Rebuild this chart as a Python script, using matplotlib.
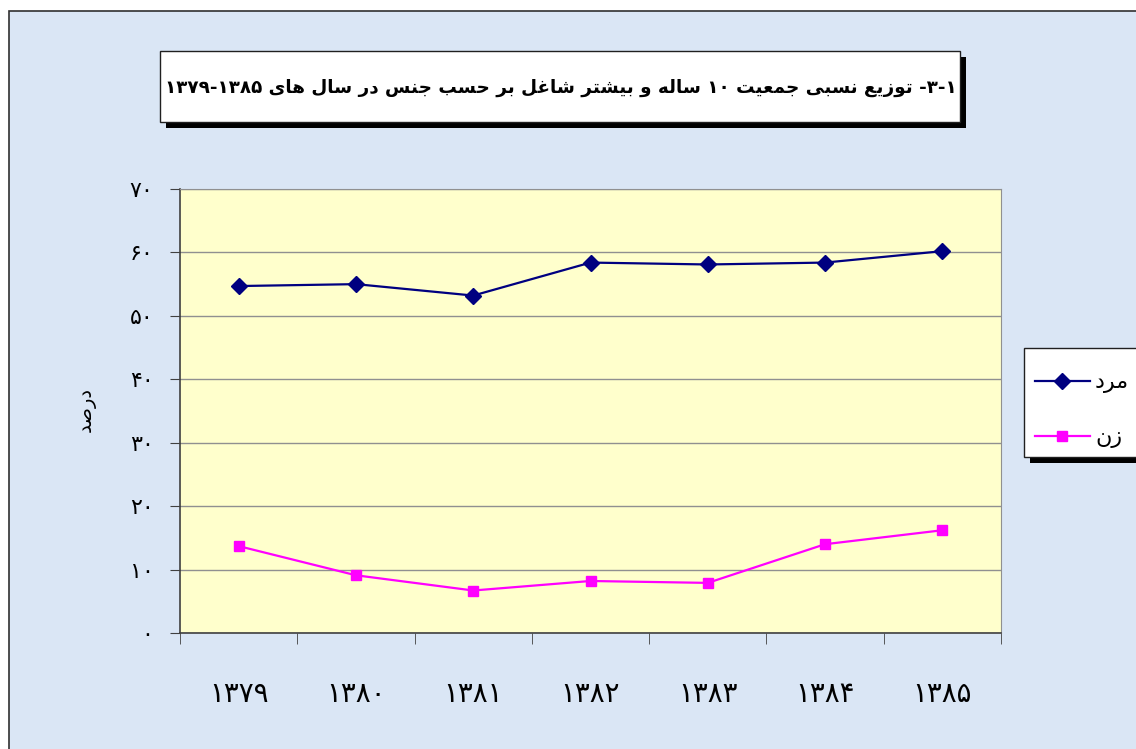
import re
import matplotlib
matplotlib.use("Agg")
import matplotlib.pyplot as plt
from matplotlib.patches import Rectangle
from matplotlib.lines import Line2D

# داده ها
years = ['۱۳۷۹', '۱۳۸۰', '۱۳۸۱', '۱۳۸۲', '۱۳۸۳', '۱۳۸۴', '۱۳۸۵']
male = [54.7, 55.0, 53.2, 58.4, 58.1, 58.4, 60.2]
female = [13.7, 9.1, 6.7, 8.2, 7.9, 14.0, 16.2]
y_ticks = [0, 10, 20, 30, 40, 50, 60, 70]
y_tick_labels = ['۰', '۱۰', '۲۰', '۳۰', '۴۰', '۵۰', '۶۰', '۷۰']

title = '۱-۳- توزیع نسبی جمعیت ۱۰ ساله و بیشتر شاغل بر حسب جنس در سال های ۱۳۸۵-۱۳۷۹'
label_male = 'مرد'
label_female = 'زن'
y_label = 'درصد'

# matplotlib does no arabic shaping, so use presentation forms (iso, fin, ini, med)
FORMS = {
    'ا': ('\uFE8D', '\uFE8E', None, None),
    'ب': ('\uFE8F', '\uFE90', '\uFE91', '\uFE92'),
    'ت': ('\uFE95', '\uFE96', '\uFE97', '\uFE98'),
    'ج': ('\uFE9D', '\uFE9E', '\uFE9F', '\uFEA0'),
    'ح': ('\uFEA1', '\uFEA2', '\uFEA3', '\uFEA4'),
    'د': ('\uFEA9', '\uFEAA', None, None),
    'ر': ('\uFEAD', '\uFEAE', None, None),
    'ز': ('\uFEAF', '\uFEB0', None, None),
    'س': ('\uFEB1', '\uFEB2', '\uFEB3', '\uFEB4'),
    'ش': ('\uFEB5', '\uFEB6', '\uFEB7', '\uFEB8'),
    'ص': ('\uFEB9', '\uFEBA', '\uFEBB', '\uFEBC'),
    'ع': ('\uFEC9', '\uFECA', '\uFECB', '\uFECC'),
    'غ': ('\uFECD', '\uFECE', '\uFECF', '\uFED0'),
    'ل': ('\uFEDD', '\uFEDE', '\uFEDF', '\uFEE0'),
    'م': ('\uFEE1', '\uFEE2', '\uFEE3', '\uFEE4'),
    'ن': ('\uFEE5', '\uFEE6', '\uFEE7', '\uFEE8'),
    'ه': ('\uFEE9', '\uFEEA', '\uFEEB', '\uFEEC'),
    'و': ('\uFEED', '\uFEEE', None, None),
    '\u06CC': ('\uFBFC', '\uFBFD', '\uFBFE', '\uFBFF'),
}


def shape(text):
    text = text.replace('\u064A', '\u06CC').replace('\u0649', '\u06CC')
    out = []
    for i, c in enumerate(text):
        if c not in FORMS:
            out.append(c)
            continue
        iso, fin, ini, med = FORMS[c]
        prev = text[i - 1] if i > 0 else ''
        nxt = text[i + 1] if i < len(text) - 1 else ''
        jp = prev in FORMS and FORMS[prev][2] is not None
        jn = nxt in FORMS and ini is not None
        if jp and jn:
            out.append(med)
        elif jp:
            out.append(fin)
        elif jn:
            out.append(ini)
        else:
            out.append(iso)
    return ''.join(out)


def fa(text):
    s = shape(text)[::-1]
    # digits stay left to right
    return re.sub('[۰-۹]+', lambda m: m.group(0)[::-1], s)


plt.rcParams['font.family'] = ['DejaVu Sans']

W, H = 1136, 749
fig = plt.figure(figsize=(W / 100, H / 100), dpi=100, facecolor='white')


def fx(px):
    return px / W


def fy(py):
    return 1 - py / H


# chart area background with frame
fig.add_artist(Rectangle((fx(9), -0.01), 1.02, fy(11) + 0.01, transform=fig.transFigure,
                         facecolor='#dae6f5', edgecolor='#303030', linewidth=1.2, zorder=0))

ax = fig.add_axes([fx(180), fy(633), fx(1001) - fx(180), fy(189) - fy(633)])
ax.set_facecolor('#ffffcc')
x = list(range(len(years)))
ax.plot(x, male, color='#000080', linewidth=1.6, marker='D', markersize=8.5,
        markerfacecolor='#000080', markeredgecolor='#000080', zorder=3)
ax.plot(x, female, color='#ff00ff', linewidth=1.6, marker='s', markersize=7.5,
        markerfacecolor='#ff00ff', markeredgecolor='#ff00ff', zorder=3)

ax.set_xlim(-0.5, len(years) - 0.5)
ax.set_ylim(0, 70)
ax.set_yticks(y_ticks)
ax.set_yticklabels(y_tick_labels, fontsize=16)
ax.set_xticks(x)
ax.set_xticklabels(years, fontsize=20)
ax.set_xticks([i - 0.5 for i in range(len(years) + 1)], minor=True)
ax.tick_params(axis='x', which='major', length=0, pad=34)
ax.tick_params(axis='x', which='minor', length=8, color='#404040', direction='out')
ax.tick_params(axis='y', which='major', length=7, color='#404040', direction='out', pad=12)
ax.grid(axis='y', color='#909090', linewidth=1)
for side in ['top', 'right']:
    ax.spines[side].set_color('#909090')
for side in ['left', 'bottom']:
    ax.spines[side].set_color('#404040')
    ax.spines[side].set_linewidth(1.2)

fig.text(fx(86), fy(410), fa(y_label), rotation=90, fontsize=14, ha='center', va='center')

# title box with shadow
sh = 6
fig.add_artist(Rectangle((fx(160 + sh), fy(122 + sh)), fx(800), fy(51) - fy(122),
                         transform=fig.transFigure, facecolor='black', edgecolor='none', zorder=2))
fig.add_artist(Rectangle((fx(160), fy(122)), fx(800), fy(51) - fy(122),
                         transform=fig.transFigure, facecolor='white', edgecolor='#202020',
                         linewidth=1, zorder=3))
fig.text(fx(561), fy(88), fa(title), fontsize=13.2, fontweight='bold',
         ha='center', va='center', zorder=4)

# legend box with shadow
fig.add_artist(Rectangle((fx(1024 + sh), fy(457 + sh)), fx(130), fy(348) - fy(457),
                         transform=fig.transFigure, facecolor='black', edgecolor='none', zorder=2))
fig.add_artist(Rectangle((fx(1024), fy(457)), fx(130), fy(348) - fy(457),
                         transform=fig.transFigure, facecolor='white', edgecolor='#202020',
                         linewidth=1, zorder=3))
for yy, col, mk, ms, lab in [(381, '#000080', 'D', 8.5, label_male), (436, '#ff00ff', 's', 7.5, label_female)]:
    fig.add_artist(Line2D([fx(1035), fx(1090)], [fy(yy), fy(yy)], transform=fig.transFigure,
                          color=col, linewidth=1.6, zorder=4))
    fig.add_artist(Line2D([fx(1062)], [fy(yy)], transform=fig.transFigure, color=col,
                          marker=mk, markersize=ms, zorder=5))
    fig.text(fx(1095), fy(yy + 2), fa(lab), fontsize=16, ha='left', va='center', zorder=5)

fig.savefig('out.png', dpi=100, facecolor=fig.get_facecolor())
